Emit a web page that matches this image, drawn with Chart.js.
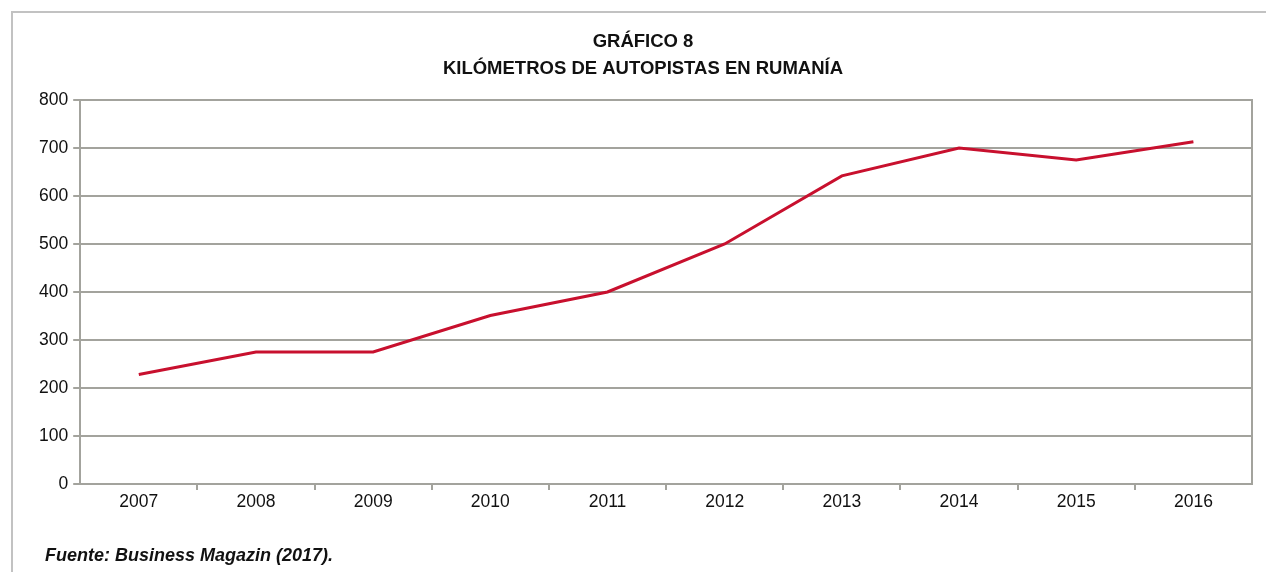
<!DOCTYPE html>
<html>
<head>
<meta charset="utf-8">
<script src="https://cdn.jsdelivr.net/npm/chart.js@4.4.1/dist/chart.umd.min.js"></script>
<style>
  html, body { margin: 0; padding: 0; background: #fff; }
  #wrap { position: relative; width: 1266px; height: 572px; overflow: hidden; }
  #frame {
    position: absolute; left: 11px; top: 11px; right: -5px; bottom: -5px;
    border-top: 2px solid #c2c2c2; border-left: 2px solid #c2c2c2;
  }
  #myChart { position: absolute; left: 0; top: 0; }
  #source {
    position: absolute; left: 45px; top: 545px; line-height: 20px;
    font: italic bold 18px "Liberation Sans", Arial, sans-serif; color: #111;
  }
</style>
</head>
<body>
<div id="wrap">
  <div id="frame"></div>
  <canvas id="myChart" width="1266" height="572"></canvas>
  <div id="source">Fuente: Business Magazin (2017).</div>
</div>
<script>
const years = ['2007', '2008', '2009', '2010', '2011', '2012', '2013', '2014', '2015', '2016'];
const kilometers = [228, 275, 275, 351, 400, 500, 642, 700, 675, 713];
const titleLines = ['GRÁFICO 8', 'KILÓMETROS DE AUTOPISTAS EN RUMANÍA'];

const gridGray = '#a3a39d';
const fontFamily = '"Liberation Sans", Arial, sans-serif';

const ctx = document.getElementById('myChart');

// hide the tick marks that fall on the left and right edges of the plot
const innerTicksOnly = (context) =>
  context.type !== 'tick' || context.index === 0 ? 'rgba(0,0,0,0)' : gridGray;

const myChart = new Chart(ctx, {
  type: 'line',
  data: {
    labels: years,
    datasets: [
      {
        label: 'km',
        data: kilometers,
        borderColor: '#c8102e',
        borderWidth: 3,
        pointRadius: 0,
        tension: 0,
        fill: false,
      },
    ],
  },
  options: {
    responsive: false,
    animation: false,
    layout: {
      padding: { left: 34, right: 14, top: 0, bottom: 57 },
    },
    plugins: {
      legend: { display: false },
      tooltip: { enabled: false },
      title: {
        display: true,
        text: titleLines,
        color: '#111',
        font: { family: fontFamily, size: 18.5, weight: 'bold', lineHeight: 1.5 },
        padding: { top: 27.6, bottom: 16.9 },
      },
    },
    scales: {
      x: {
        offset: true,
        grid: {
          offset: true,
          drawOnChartArea: false,
          drawTicks: true,
          tickLength: 6,
          lineWidth: 2,
          color: innerTicksOnly,
        },
        border: { display: true, color: gridGray, width: 2 },
        ticks: {
          color: '#111',
          padding: 2,
          maxRotation: 0,
          font: { family: fontFamily, size: 17.5 },
        },
      },
      y: {
        min: 0,
        max: 800,
        grid: {
          color: gridGray,
          lineWidth: 2,
          tickLength: 7,
        },
        border: { display: true, color: gridGray, width: 2 },
        ticks: {
          stepSize: 100,
          color: '#111',
          padding: 5,
          font: { family: fontFamily, size: 17.5 },
        },
      },
      y2: {
        position: 'right',
        min: 0,
        max: 800,
        grid: { drawOnChartArea: false, drawTicks: false },
        border: { display: true, color: gridGray, width: 2 },
        ticks: { display: false },
      },
    },
  },
});
</script>
</body>
</html>
